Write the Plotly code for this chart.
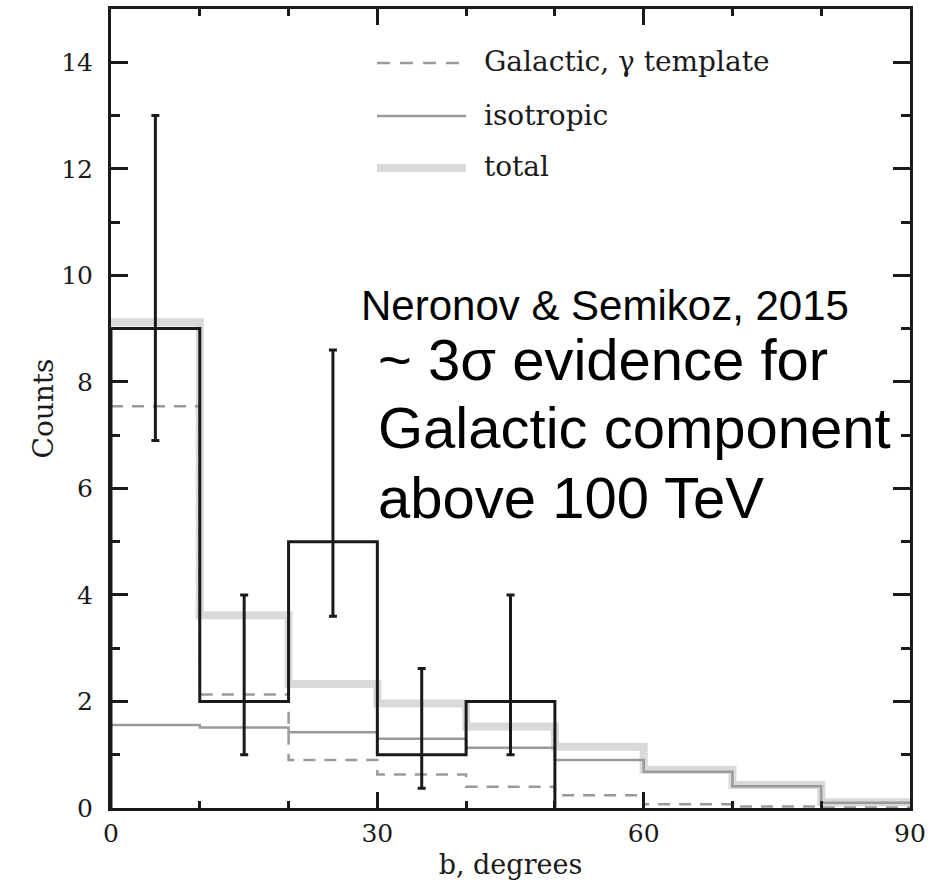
import plotly.graph_objects as go

# Bin edges in Galactic latitude |b| (degrees)
bin_edges = [0, 10, 20, 30, 40, 50, 60, 70, 80, 90]

# Observed event counts per bin (only the first five bins are populated)
obs_edges = [0, 10, 20, 30, 40, 50]
obs_counts = [9, 2, 5, 1, 2]
obs_err_hi = [13.0, 4.0, 8.6, 2.62, 4.0]
obs_err_lo = [6.9, 1.0, 3.6, 0.37, 1.0]
obs_centers = [5, 15, 25, 35, 45]

# Model components per bin
galactic = [7.54, 2.13, 0.90, 0.63, 0.40, 0.24, 0.07, 0.03, 0.01]
isotropic = [1.56, 1.51, 1.42, 1.30, 1.13, 0.90, 0.68, 0.41, 0.10]
total = [9.12, 3.62, 2.33, 1.96, 1.53, 1.15, 0.72, 0.43, 0.11]

legend_labels = ["Galactic, \u03b3 template", "isotropic", "total"]

y_ticks = [0, 2, 4, 6, 8, 10, 12, 14]
x_ticks = [0, 30, 60, 90]

GRAY = "#9a9a9a"
LIGHT = "#d9d9d9"
INK = "#1a1a1a"
SERIF = "DejaVu Serif"
SANS = "Liberation Sans, Arial, sans-serif"


def step(edges, vals, close=False):
    xs = list(edges)
    ys = list(vals) + [vals[-1]]
    if close:
        xs = [edges[0]] + xs + [edges[-1]]
        ys = [0] + ys + [0]
    return xs, ys


fig = go.Figure()

tx, ty = step(bin_edges, total)
fig.add_trace(go.Scatter(x=tx, y=ty, mode="lines", line_shape="hv",
                         line=dict(color=LIGHT, width=8), hoverinfo="skip",
                         showlegend=False))

ix, iy = step(bin_edges, isotropic)
fig.add_trace(go.Scatter(x=ix, y=iy, mode="lines", line_shape="hv",
                         line=dict(color=GRAY, width=2.5), hoverinfo="skip",
                         showlegend=False))

gx, gy = step(bin_edges, galactic)
fig.add_trace(go.Scatter(x=gx, y=gy, mode="lines", line_shape="hv",
                         line=dict(color=GRAY, width=2.5, dash="12px,9px"),
                         hoverinfo="skip", showlegend=False))

ox, oy = step(obs_edges, obs_counts, close=True)
fig.add_trace(go.Scatter(x=ox, y=oy, mode="lines", line_shape="hv",
                         line=dict(color=INK, width=3), hoverinfo="skip",
                         showlegend=False))

fig.add_trace(go.Scatter(
    x=obs_centers, y=obs_counts, mode="markers",
    marker=dict(size=1, color=INK),
    error_y=dict(type="data", symmetric=False,
                 array=[h - c for h, c in zip(obs_err_hi, obs_counts)],
                 arrayminus=[c - l for c, l in zip(obs_counts, obs_err_lo)],
                 color=INK, thickness=3, width=4),
    hoverinfo="skip", showlegend=False))

# Legend drawn as line samples plus serif labels
L, T, W, H = 111, 9, 799, 799


def px_x(p):
    return (p - L) / W


def px_y(p):
    return (T + H - p) / H


legend_styles = [
    dict(color=GRAY, width=2.5, dash="13px,10px"),
    dict(color=GRAY, width=2.5),
    dict(color=LIGHT, width=8),
]
legend_rows = [63, 116, 168]
for label, style, row in zip(legend_labels, legend_styles, legend_rows):
    fig.add_shape(type="line", xref="paper", yref="paper",
                  x0=px_x(377), x1=px_x(466), y0=px_y(row), y1=px_y(row),
                  line=style)
    fig.add_annotation(text=label, xref="paper", yref="paper",
                       x=px_x(482), y=px_y(row - 1), xanchor="left",
                       yanchor="middle", showarrow=False,
                       font=dict(family=SERIF, size=28, color=INK))

fig.add_annotation(text="Neronov &amp; Semikoz, 2015", xref="paper", yref="paper",
                   x=px_x(359), y=px_y(305), xanchor="left", yanchor="middle",
                   showarrow=False, font=dict(family=SANS, size=42, color="black"))

claim_lines = ["~ 3\u03c3 evidence for", "Galactic component", "above 100 TeV"]
claim_rows = [359, 428, 497]
for line, row in zip(claim_lines, claim_rows):
    fig.add_annotation(text=line, xref="paper", yref="paper",
                       x=px_x(376), y=px_y(row), xanchor="left",
                       yanchor="middle", showarrow=False,
                       font=dict(family=SANS, size=58, color="black"))

axis_common = dict(
    showline=True, linecolor=INK, linewidth=3, mirror="allticks",
    ticks="inside", tickcolor=INK, tickwidth=2.5, showgrid=False,
    zeroline=False, automargin=False,
    tickfont=dict(family=SERIF, size=25, color=INK),
)

fig.update_xaxes(range=[0, 90], tickvals=x_ticks, ticklen=16,
                 minor=dict(ticks="inside", ticklen=7, dtick=10, tick0=0,
                            tickcolor=INK, tickwidth=2.5, showgrid=False),
                 ticklabelstandoff=1,
                 title=dict(text="b, degrees", standoff=9,
                            font=dict(family=SERIF, size=27, color=INK)),
                 **axis_common)
fig.update_yaxes(range=[0, 15], tickvals=y_ticks, ticklen=17,
                 minor=dict(ticks="inside", ticklen=9, dtick=1, tick0=0,
                            tickcolor=INK, tickwidth=2.5, showgrid=False),
                 ticklabelstandoff=10,
                 title=dict(text="Counts", standoff=0,
                            font=dict(family=SERIF, size=28, color=INK)),
                 **axis_common)

fig.update_layout(
    width=944, height=882,
    margin=dict(l=L, r=944 - L - W, t=T, b=882 - T - H),
    plot_bgcolor="white", paper_bgcolor="white",
    showlegend=False,
)

fig.write_html("out.html")
